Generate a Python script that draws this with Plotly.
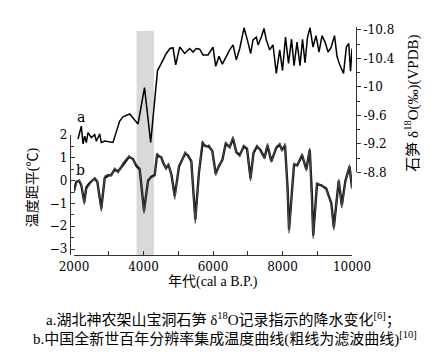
import plotly.graph_objects as go

# Curve a: stalagmite d18O (per mil, VPDB)
years_a = [2115, 2210, 2260, 2308, 2354, 2403, 2498, 2596, 2642, 2740, 2786, 2884, 3122, 3315, 3410,
           3603, 3842, 4029, 4207, 4403, 4512, 4656, 4763, 4849, 4927, 5042, 5186, 5330, 5425, 5520,
           5618, 5713, 5856, 6000, 6078, 6173, 6268, 6337, 6481, 6576, 6671, 6769, 6893, 6988, 7085,
           7152, 7247, 7296, 7391, 7468, 7534, 7632, 7727, 7822, 7920, 8001, 8087, 8173, 8260, 8332,
           8418, 8504, 8576, 8648, 8720, 8792, 8878, 8965, 9051, 9137, 9224, 9310, 9396, 9497, 9569,
           9647, 9756, 9837, 9906, 9958, 10000]
d18o = [-9.27, -9.45, -9.20, -9.31, -9.22, -9.36, -9.29, -9.33, -9.24, -9.34, -9.22, -9.24, -9.22, -9.52, -9.58,
        -9.62, -9.48, -9.99, -9.22, -10.23, -10.33, -10.47, -10.54, -10.55, -10.31, -10.56, -10.47, -10.54, -10.49, -10.54,
        -10.53, -10.45, -10.45, -10.56, -10.29, -10.43, -10.32, -10.39, -10.52, -10.59, -10.38, -10.54, -10.83, -10.66, -10.47,
        -10.66, -10.70, -10.59, -10.70, -10.82, -10.66, -10.52, -10.59, -10.19, -10.52, -10.23, -10.70, -10.33, -10.67, -10.30,
        -10.63, -10.30, -10.67, -10.34, -10.70, -10.83, -10.56, -10.72, -10.49, -10.72, -10.63, -10.49, -10.55, -10.72, -10.43,
        -10.31, -10.19, -10.56, -10.61, -10.22, -10.54]

# Curve b: temperature anomaly (deg C)
years_b = [2000, 2066, 2150, 2210, 2296, 2354, 2452, 2596, 2671, 2786, 2884, 2979, 3073, 3171, 3266,
           3410, 3583, 3698, 3793, 3891, 4015, 4130, 4225, 4323, 4389, 4512, 4576, 4648, 4720, 4806,
           4898, 5022, 5088, 5200, 5281, 5376, 5491, 5598, 5698, 5790, 5885, 5980, 6078, 6173, 6268,
           6366, 6481, 6576, 6671, 6769, 6884, 6979, 7080, 7166, 7267, 7362, 7483, 7569, 7678, 7822,
           7920, 7986, 8073, 8145, 8188, 8332, 8427, 8562, 8686, 8784, 8844, 8884, 8993, 9117, 9261,
           9405, 9477, 9618, 9707, 9808, 9929, 10000]
temp_raw = [-0.55, -0.10, 0.03, -0.16, -1.05, -0.37, -0.16, 0.13, -0.01, -1.35, 0.20, 0.28, 0.20, 0.56, 0.35,
            0.78, 1.09, 0.92, 0.71, 0.56, -1.45, 0.06, 0.13, 0.20, 1.21, 1.00, 0.80, 0.50, 0.78, 0.20,
            -0.82, 0.71, 0.78, 1.28, 1.06, 0.92, -1.88, 0.45, 1.75, 1.48, 1.57, 1.28, 0.22, 0.71, 0.85,
            1.71, 1.43, 1.95, 1.21, 1.06, 1.57, 1.43, -0.01, 1.28, 1.57, 1.30, 0.95, 1.64, 0.80, 1.50,
            1.64, 1.28, 1.64, -0.44, -2.31, 0.78, 0.63, 1.20, 0.42, 1.43, -0.66, -2.55, -0.08, -0.23, -0.30,
            -1.09, -2.17, 0.06, -1.20, -0.08, 0.71, -0.37]
temp_filt = [-0.45, -0.05, 0.00, -0.20, -0.95, -0.30, -0.10, 0.10, -0.05, -1.22, 0.12, 0.22, 0.25, 0.50, 0.40,
             0.72, 1.05, 0.95, 0.65, 0.50, -1.32, 0.00, 0.18, 0.25, 1.12, 1.02, 0.75, 0.55, 0.70, 0.25,
             -0.68, 0.62, 0.82, 1.20, 1.10, 0.85, -1.70, 0.40, 1.62, 1.52, 1.50, 1.30, 0.30, 0.65, 0.90,
             1.62, 1.48, 1.85, 1.25, 1.12, 1.50, 1.40, 0.10, 1.22, 1.50, 1.35, 1.00, 1.55, 0.85, 1.45,
             1.58, 1.35, 1.55, -0.30, -2.15, 0.70, 0.68, 1.12, 0.50, 1.35, -0.55, -2.40, -0.15, -0.20, -0.35,
             -1.00, -2.05, 0.00, -1.08, -0.02, 0.62, -0.30]

band = [3800, 4300]

x_ticks = [2000, 4000, 6000, 8000, 10000]
x_labels = ["2000", "4000", "6000", "8000", "10000"]
y2_ticks = [-10.8, -10.4, -10.0, -9.6, -9.2, -8.8]
y2_labels = ["-10.8", "-10.4", "-10", "-9.6", "-9.2", "-8.8"]

serif = "DejaVu Serif, Liberation Serif, serif"
cjk = "Liberation Serif, Noto Sans CJK SC, serif"

W, H = 437, 356
L, R, T, B = 60, 87, 15, 109
PW, PH = W - L - R, H - T - B


def px(x):
    return (x - L) / PW


def py(y):
    return (H - B - y) / PH


fig = go.Figure()
fig.add_trace(go.Scatter(x=years_a, y=d18o, xaxis="x", yaxis="y2", mode="lines",
                         line=dict(color="black", width=1.5), showlegend=False))
fig.add_trace(go.Scatter(x=years_b, y=temp_filt, xaxis="x", yaxis="y", mode="lines",
                         line=dict(color="#111111", width=2.4), showlegend=False))
fig.add_trace(go.Scatter(x=years_b, y=temp_raw, xaxis="x", yaxis="y", mode="lines",
                         line=dict(color="#4a4a4a", width=1.1), showlegend=False))

fig.add_shape(type="rect", xref="x", yref="paper", x0=band[0], x1=band[1], y0=0, y1=py(19),
              fillcolor="#d9d9d9", line=dict(width=0), layer="below")

axcol = "#333333"
tickfont = dict(family=serif, size=12, color="black")
fig.update_layout(
    width=W, height=H, margin=dict(l=L, r=R, t=T, b=B),
    paper_bgcolor="white", plot_bgcolor="rgba(0,0,0,0)",
    xaxis=dict(domain=[px(66), px(344)], range=[2000, 10000], anchor="y",
               tickvals=x_ticks, ticktext=x_labels, ticks="inside", ticklen=4, tickcolor=axcol,
               minor=dict(dtick=1000, tick0=2000, ticks="inside", ticklen=4, tickcolor=axcol),
               showline=True, linecolor=axcol, linewidth=1.3, showgrid=False, zeroline=False,
               tickfont=tickfont),
    yaxis=dict(domain=[0, py(125)], range=[-3.26, 2], anchor="free", position=px(62),
               dtick=1, tick0=0, ticks="inside", ticklen=4, tickcolor=axcol,
               minor=dict(dtick=0.5, ticks="inside", ticklen=3, tickcolor=axcol),
               showline=True, linecolor=axcol, linewidth=1.3, showgrid=False, zeroline=False,
               tickfont=tickfont),
    yaxis2=dict(domain=[py(163), py(15.1)], range=[-8.8, -10.84], anchor="free", position=px(348),
                side="right", tickvals=y2_ticks, ticktext=y2_labels,
                ticks="outside", ticklen=4, tickcolor=axcol,
                minor=dict(tickvals=[-10.6, -10.2, -9.8, -9.4, -9.0], ticks="outside", ticklen=3, tickcolor=axcol),
                showline=True, linecolor=axcol, linewidth=1.3, showgrid=False, zeroline=False,
                tickfont=tickfont),
)

ann_font = dict(family=cjk, size=14, color="black")
anns = [
    dict(x=px(25), y=py(178), text="温度距平(℃)", textangle=-90),
    dict(x=px(404), y=py(93), text="石笋 δ<sup>18</sup>O(‰)(VPDB)", textangle=-90, font=dict(family=cjk, size=15, color="black")),
    dict(x=px(205), y=py(274), text="年代(cal a B.P.)"),
    dict(x=px(215), y=py(313), text="a.湖北神农架山宝洞石笋 δ<sup>18</sup>O记录指示的降水变化<sup>[6]</sup>；", font=dict(family=cjk, size=15, color="black")),
    dict(x=px(217), y=py(332), text="b.中国全新世百年分辨率集成温度曲线(粗线为滤波曲线)<sup>[10]</sup>", font=dict(family=cjk, size=15, color="black")),
    dict(x=px(73), y=py(107), text="a", font=dict(family=serif, size=14, color="black")),
    dict(x=px(72), y=py(161), text="b", font=dict(family=serif, size=14, color="black")),
]
for a in anns:
    a.setdefault("font", ann_font)
    fig.add_annotation(xref="paper", yref="paper", showarrow=False, xanchor="center", yanchor="middle", **a)

fig.write_html("out.html")
